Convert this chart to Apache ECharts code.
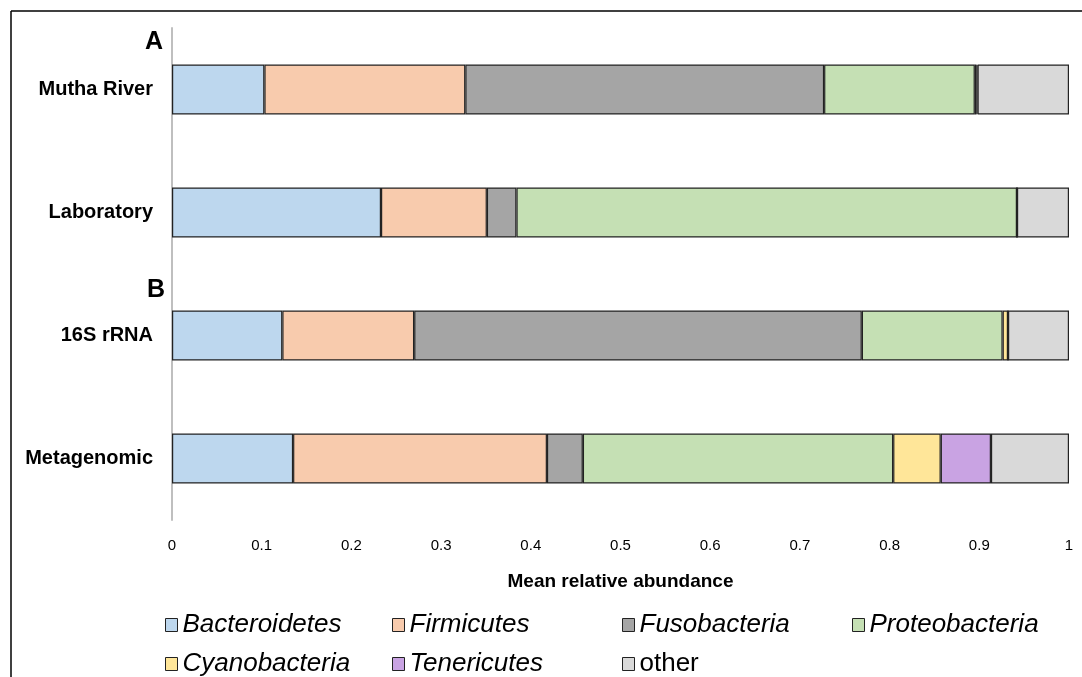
<!DOCTYPE html>
<html><head><meta charset="utf-8">
<script src="https://cdn.jsdelivr.net/npm/echarts@6/dist/echarts.min.js"></script>
<style>html,body{margin:0;padding:0;background:#fff}#c{width:1082px;height:677px}</style>
</head><body><div id="c"></div>
<script>
const categories = ['Mutha River', 'Laboratory', '16S rRNA', 'Metagenomic'];
const seriesNames = ['Bacteroidetes', 'Firmicutes', 'Fusobacteria', 'Proteobacteria', 'Cyanobacteria', 'Tenericutes', 'other'];
const bacteroidetes = [0.103, 0.233, 0.123, 0.135];
const firmicutes = [0.224, 0.118, 0.147, 0.283];
const fusobacteria = [0.400, 0.033, 0.499, 0.040];
const proteobacteria = [0.168, 0.558, 0.157, 0.346];
const cyanobacteria = [0.002, 0.000, 0.006, 0.053];
const tenericutes = [0.001, 0.000, 0.000, 0.056];
const other = [0.102, 0.058, 0.068, 0.087];
const xTicks = ['0', '0.1', '0.2', '0.3', '0.4', '0.5', '0.6', '0.7', '0.8', '0.9', '1'];
const colors = ['#bdd7ee', '#f8cbad', '#a5a5a5', '#c5e0b4', '#ffe699', '#c9a3e3', '#d9d9d9'];
const allData = [bacteroidetes, firmicutes, fusobacteria, proteobacteria, cyanobacteria, tenericutes, other];

const chart = echarts.init(document.getElementById('c'));
const font = 'Liberation Sans, Arial, sans-serif';
const legendPos = [[160, 607], [387, 607], [617, 607], [847, 607], [160, 646], [387, 646], [617, 646]];
const legends = seriesNames.map((n, i) => ({
  data: [n], left: legendPos[i][0], top: legendPos[i][1], icon: 'rect', itemWidth: 12, itemHeight: 13,
  itemStyle: {borderColor: '#222', borderWidth: 1},
  textStyle: {fontFamily: font, fontSize: 26, color: '#000', fontStyle: n === 'other' ? 'normal' : 'italic', padding: [0, 0, 0, 0]},
  selectedMode: false
}));
chart.setOption({
  animation: false,
  textStyle: {fontFamily: font},
  grid: {left: 172, right: 13, top: 28, bottom: 157},
  legend: legends,
  xAxis: {
    type: 'value', min: 0, max: 1, interval: 0.1,
    axisLine: {show: false}, axisTick: {show: false}, splitLine: {show: false},
    axisLabel: {color: '#000', fontSize: 15, margin: 18, formatter: (v) => xTicks[Math.round(v * 10)]},
    name: 'Mean relative abundance', nameLocation: 'middle', nameGap: 52,
    nameTextStyle: {fontWeight: 'bold', fontSize: 19, color: '#000'}
  },
  yAxis: {
    type: 'category', data: categories, inverse: true,
    axisLine: {lineStyle: {color: '#bfbfbf', width: 2}}, axisTick: {show: false},
    axisLabel: {color: '#000', fontSize: 20, fontWeight: 'bold', margin: 19}
  },
  series: seriesNames.map((n, i) => ({
    name: n, type: 'bar', stack: 'total', data: allData[i], barWidth: 50,
    itemStyle: {color: colors[i], borderColor: '#222', borderWidth: 1.2}
  })),
  graphic: [
    {type: 'line', shape: {x1: 11, y1: 11, x2: 1082, y2: 11}, style: {stroke: '#000', lineWidth: 1.5}},
    {type: 'line', shape: {x1: 11, y1: 11, x2: 11, y2: 677}, style: {stroke: '#000', lineWidth: 1.5}},
    {type: 'text', left: 145, top: 30, style: {text: 'A', font: 'bold 25px ' + font, fill: '#000'}},
    {type: 'text', left: 147, top: 278, style: {text: 'B', font: 'bold 25px ' + font, fill: '#000'}}
  ]
});
</script></body></html>
